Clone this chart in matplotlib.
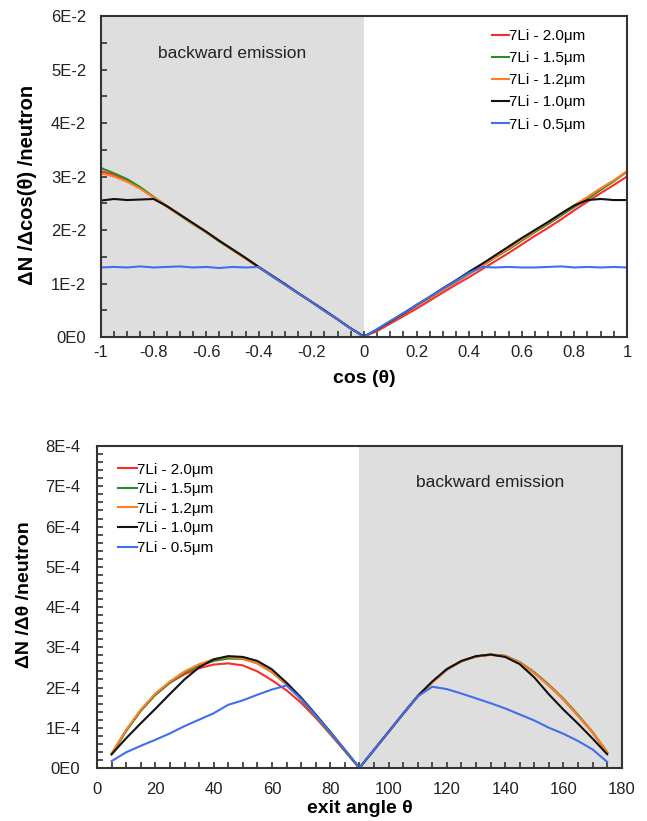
import numpy as np
import matplotlib
matplotlib.use('Agg')
import matplotlib.pyplot as plt
from matplotlib.ticker import MultipleLocator, FixedLocator

plt.rcParams['font.family'] = ['Liberation Sans', 'DejaVu Sans']

labels = ['7Li - 2.0μm', '7Li - 1.5μm', '7Li - 1.2μm', '7Li - 1.0μm', '7Li - 0.5μm']
colors = ['#ff2a2a', '#2a8c2a', '#ff7f27', '#111111', '#3f6ff0']

# ---- dN/dcos(theta) per neutron, cos from -1 to 1 in 0.05 steps
cos_t = np.round(np.arange(-1.0, 1.0001, 0.05), 2)

cos_red = [0.0310, 0.0303, 0.0292, 0.0278, 0.0261, 0.0244, 0.0228, 0.0212, 0.0196, 0.0179,
           0.0163, 0.0147, 0.0130, 0.0114, 0.0098, 0.0082, 0.0066, 0.0049, 0.0033, 0.0016, 0.0001,
           0.0011, 0.0025, 0.0039, 0.0053, 0.0068, 0.0083, 0.0098, 0.0112, 0.0127, 0.0142,
           0.0157, 0.0173, 0.0189, 0.0204, 0.0220, 0.0237, 0.0253, 0.0269, 0.0284, 0.0300]
cos_green = [0.0316, 0.0306, 0.0295, 0.0280, 0.0262, 0.0245, 0.0228, 0.0211, 0.0196, 0.0179,
             0.0163, 0.0147, 0.0131, 0.0114, 0.0098, 0.0082, 0.0066, 0.0049, 0.0033, 0.0016, 0.0001,
             0.0013, 0.0028, 0.0043, 0.0058, 0.0073, 0.0088, 0.0103, 0.0118, 0.0133, 0.0149,
             0.0164, 0.0180, 0.0196, 0.0211, 0.0227, 0.0243, 0.0258, 0.0275, 0.0291, 0.0309]
cos_orange = [0.0306, 0.0300, 0.0290, 0.0277, 0.0261, 0.0245, 0.0229, 0.0212, 0.0196, 0.0180,
              0.0163, 0.0147, 0.0131, 0.0114, 0.0098, 0.0082, 0.0066, 0.0049, 0.0033, 0.0016, 0.0001,
              0.0013, 0.0028, 0.0043, 0.0058, 0.0073, 0.0088, 0.0104, 0.0119, 0.0134, 0.0150,
              0.0166, 0.0182, 0.0198, 0.0214, 0.0230, 0.0246, 0.0262, 0.0278, 0.0293, 0.0310]
cos_black = [0.0255, 0.0258, 0.0256, 0.0257, 0.0258, 0.0245, 0.0229, 0.0213, 0.0197, 0.0180,
             0.0164, 0.0148, 0.0131, 0.0115, 0.0099, 0.0082, 0.0066, 0.0050, 0.0033, 0.0016, 0.0001,
             0.0014, 0.0029, 0.0044, 0.0060, 0.0075, 0.0091, 0.0106, 0.0122, 0.0137, 0.0153,
             0.0169, 0.0185, 0.0200, 0.0215, 0.0231, 0.0246, 0.0256, 0.0258, 0.0256, 0.0256]
cos_blue = [0.0130, 0.0131, 0.0130, 0.0132, 0.0130, 0.0131, 0.0132, 0.0130, 0.0131, 0.0129,
            0.0131, 0.0130, 0.0131, 0.0114, 0.0098, 0.0082, 0.0066, 0.0049, 0.0033, 0.0016, 0.0000,
            0.0015, 0.0030, 0.0045, 0.0060, 0.0075, 0.0090, 0.0105, 0.0120, 0.0131, 0.0130,
            0.0131, 0.0130, 0.0130, 0.0131, 0.0132, 0.0130, 0.0131, 0.0130, 0.0131, 0.0130]

# ---- dN/dtheta per neutron, exit angle 5..175 deg in 5 deg steps
theta = np.arange(5, 176, 5)

ang_red = [3.5e-5, 9.4e-5, 1.43e-4, 1.82e-4, 2.12e-4, 2.33e-4, 2.48e-4, 2.57e-4, 2.60e-4,
           2.55e-4, 2.40e-4, 2.18e-4, 1.93e-4, 1.62e-4, 1.25e-4, 8.4e-5, 4.2e-5, 0.0,
           4.4e-5, 8.9e-5, 1.34e-4, 1.77e-4, 2.13e-4, 2.44e-4, 2.66e-4, 2.77e-4, 2.81e-4,
           2.78e-4, 2.62e-4, 2.36e-4, 2.05e-4, 1.70e-4, 1.30e-4, 8.8e-5, 3.8e-5]
ang_green = [3.4e-5, 9.2e-5, 1.42e-4, 1.82e-4, 2.12e-4, 2.37e-4, 2.54e-4, 2.66e-4, 2.72e-4,
             2.71e-4, 2.60e-4, 2.38e-4, 2.07e-4, 1.70e-4, 1.28e-4, 8.6e-5, 4.3e-5, 0.0,
             4.5e-5, 9.0e-5, 1.35e-4, 1.78e-4, 2.14e-4, 2.45e-4, 2.65e-4, 2.77e-4, 2.82e-4,
             2.79e-4, 2.63e-4, 2.38e-4, 2.07e-4, 1.72e-4, 1.32e-4, 8.9e-5, 3.9e-5]
ang_orange = [3.6e-5, 9.5e-5, 1.45e-4, 1.85e-4, 2.15e-4, 2.40e-4, 2.58e-4, 2.70e-4, 2.76e-4,
              2.72e-4, 2.60e-4, 2.38e-4, 2.08e-4, 1.72e-4, 1.30e-4, 8.8e-5, 4.4e-5, 0.0,
              4.5e-5, 9.0e-5, 1.35e-4, 1.78e-4, 2.13e-4, 2.45e-4, 2.65e-4, 2.77e-4, 2.82e-4,
              2.78e-4, 2.62e-4, 2.36e-4, 2.05e-4, 1.70e-4, 1.30e-4, 8.8e-5, 3.9e-5]
ang_black = [3.4e-5, 7.4e-5, 1.11e-4, 1.47e-4, 1.84e-4, 2.20e-4, 2.50e-4, 2.70e-4, 2.78e-4,
             2.76e-4, 2.66e-4, 2.45e-4, 2.12e-4, 1.75e-4, 1.33e-4, 9.0e-5, 4.5e-5, 0.0,
             4.5e-5, 9.0e-5, 1.35e-4, 1.79e-4, 2.15e-4, 2.46e-4, 2.66e-4, 2.78e-4, 2.82e-4,
             2.76e-4, 2.58e-4, 2.25e-4, 1.83e-4, 1.45e-4, 1.10e-4, 7.3e-5, 3.4e-5]
ang_blue = [1.7e-5, 3.9e-5, 5.5e-5, 7.0e-5, 8.6e-5, 1.04e-4, 1.20e-4, 1.36e-4, 1.57e-4,
            1.68e-4, 1.82e-4, 1.95e-4, 2.05e-4, 1.72e-4, 1.31e-4, 8.9e-5, 4.5e-5, 0.0,
            4.5e-5, 9.0e-5, 1.35e-4, 1.78e-4, 2.02e-4, 1.96e-4, 1.85e-4, 1.73e-4, 1.61e-4,
            1.48e-4, 1.33e-4, 1.18e-4, 1.00e-4, 8.5e-5, 6.7e-5, 4.6e-5, 1.5e-5]

cos_series = [cos_red, cos_green, cos_orange, cos_black, cos_blue]
ang_series = [ang_red, ang_green, ang_orange, ang_black, ang_blue]

fig = plt.figure(figsize=(6.47, 8.21), dpi=100)
ax1 = fig.add_axes([0.156, 0.5895, 0.813, 0.391])
ax2 = fig.add_axes([0.150, 0.0646, 0.811, 0.392])

shade = '#dedede'
txt = '#222222'

# top panel
ax1.axvspan(-1, 0, color=shade, lw=0, zorder=0)
for y, c, lab in zip(cos_series, colors, labels):
    ax1.plot(cos_t, y, color=c, lw=1.5, label=lab)
ax1.set_xlim(-1, 1)
ax1.set_ylim(0, 0.06)
ax1.xaxis.set_major_locator(FixedLocator(np.round(np.arange(-1, 1.01, 0.2), 1)))
ax1.set_xticklabels(['-1', '-0.8', '-0.6', '-0.4', '-0.2', '0', '0.2', '0.4', '0.6', '0.8', '1'])
ax1.xaxis.set_minor_locator(MultipleLocator(0.05))
ax1.yaxis.set_major_locator(FixedLocator(np.arange(0, 0.0601, 0.01)))
ax1.set_yticklabels(['0E0', '1E-2', '2E-2', '3E-2', '4E-2', '5E-2', '6E-2'])
ax1.yaxis.set_minor_locator(MultipleLocator(0.005))
ax1.text(-0.5, 0.0529, 'backward emission', ha='center', va='center', fontsize=12.5, color=txt)
ax1.set_xlabel('cos (θ)', fontsize=14, fontweight='bold')
ax1.set_ylabel('ΔN /Δcos(θ) /neutron', fontsize=14.5, fontweight='bold')
ax1.yaxis.set_label_coords(-0.122, 0.475)
ax1.xaxis.set_label_coords(0.5, -0.103)
ax1.legend(loc='upper left', bbox_to_anchor=(0.732, 0.978), frameon=False, fontsize=11,
           handlelength=1.1, handletextpad=0.0, labelspacing=0.53, borderaxespad=0)

# bottom panel
ax2.axvspan(90, 180, color=shade, lw=0, zorder=0)
for y, c, lab in zip(ang_series, colors, labels):
    ax2.plot(theta, y, color=c, lw=1.5, label=lab)
ax2.set_xlim(0, 180)
ax2.set_ylim(0, 8e-4)
ax2.xaxis.set_major_locator(MultipleLocator(20))
ax2.xaxis.set_minor_locator(MultipleLocator(5))
ax2.yaxis.set_major_locator(FixedLocator(np.arange(0, 8.01e-4, 1e-4)))
ax2.set_yticklabels(['0E0'] + ['%dE-4' % i for i in range(1, 9)])
ax2.yaxis.set_minor_locator(MultipleLocator(2e-5))
ax2.text(135, 7.1e-4, 'backward emission', ha='center', va='center', fontsize=12.5, color=txt)
ax2.set_xlabel('exit angle θ', fontsize=14, fontweight='bold')
ax2.set_ylabel('ΔN /Δθ /neutron', fontsize=14, fontweight='bold')
ax2.yaxis.set_label_coords(-0.122, 0.539)
ax2.xaxis.set_label_coords(0.5, -0.099)
ax2.legend(loc='upper left', bbox_to_anchor=(0.0286, 0.968), frameon=False, fontsize=11,
           handlelength=1.25, handletextpad=0.0, labelspacing=0.37, borderaxespad=0)

for ax in (ax1, ax2):
    for s in ax.spines.values():
        s.set_linewidth(1.5)
        s.set_color('#333333')
    ax.tick_params(which='both', direction='in', length=4, width=1.2, color='#333333',
                   top=False, right=False, labelsize=12, labelcolor=txt)
ax1.tick_params(axis='y', pad=10.5)
ax1.tick_params(axis='x', pad=6)
ax2.tick_params(axis='y', pad=12)
ax2.tick_params(axis='x', pad=10)

fig.savefig('out.png', dpi=100)
